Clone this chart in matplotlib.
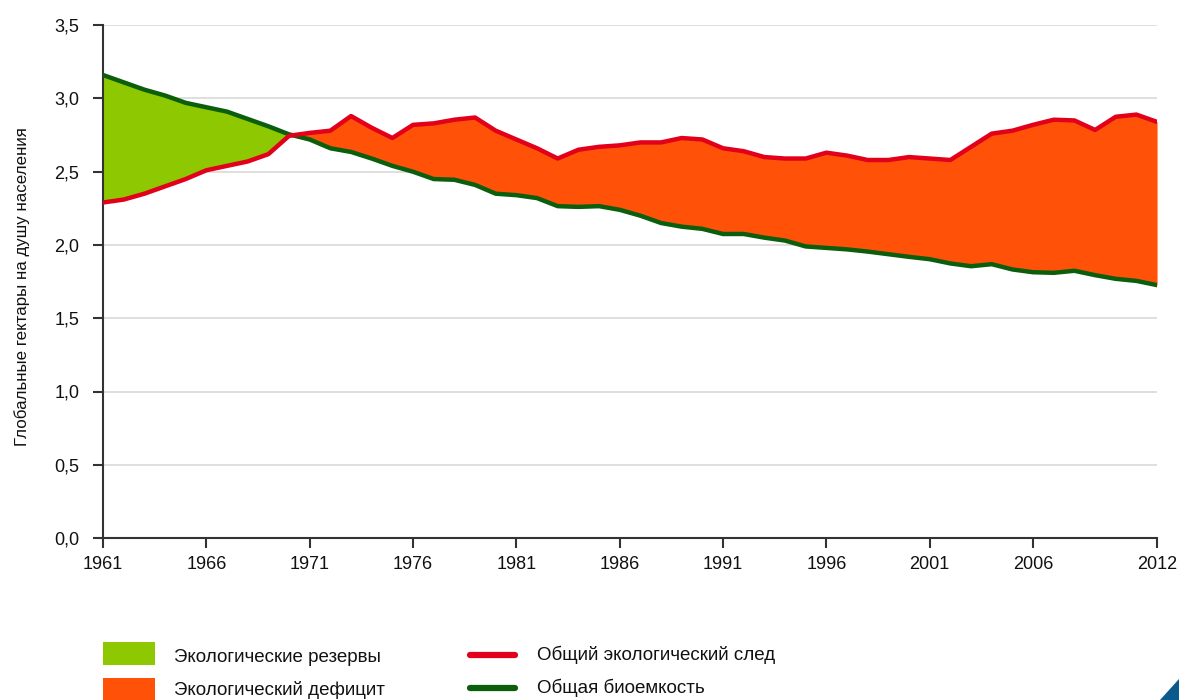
import matplotlib.pyplot as plt
from matplotlib.patches import Rectangle, Polygon
from matplotlib.lines import Line2D

# data
years = list(range(1961, 2013))
footprint = [2.29, 2.31, 2.35, 2.40, 2.45, 2.51, 2.54, 2.57, 2.62, 2.745,
             2.765, 2.78, 2.88, 2.80, 2.73, 2.82, 2.83, 2.855, 2.87, 2.78,
             2.72, 2.66, 2.59, 2.65, 2.67, 2.68, 2.70, 2.70, 2.73, 2.72,
             2.66, 2.64, 2.60, 2.59, 2.59, 2.63, 2.61, 2.58, 2.58, 2.60,
             2.59, 2.58, 2.67, 2.76, 2.78, 2.82, 2.855, 2.85, 2.785, 2.875,
             2.89, 2.84]
biocapacity = [3.16, 3.11, 3.06, 3.02, 2.97, 2.94, 2.91, 2.86, 2.81, 2.755,
               2.72, 2.66, 2.635, 2.59, 2.54, 2.50, 2.45, 2.445, 2.41, 2.35,
               2.34, 2.32, 2.265, 2.26, 2.265, 2.24, 2.20, 2.15, 2.125, 2.11,
               2.075, 2.075, 2.05, 2.03, 1.99, 1.98, 1.97, 1.955, 1.937, 1.919,
               1.903, 1.874, 1.855, 1.869, 1.833, 1.814, 1.81, 1.824, 1.794, 1.769,
               1.755, 1.726]
xticks = [1961, 1966, 1971, 1976, 1981, 1986, 1991, 1996, 2001, 2006, 2012]
yticks = [0, 0.5, 1.0, 1.5, 2.0, 2.5, 3.0, 3.5]

GREEN_FILL = '#8DC800'
ORANGE_FILL = '#FF5208'
RED = '#E2001A'
DKGREEN = '#0B5E0B'
AXIS = '#333333'
TXT = '#111111'

plt.rcParams['font.family'] = ['Liberation Sans', 'DejaVu Sans']

fig = plt.figure(figsize=(11.79, 7.0), dpi=100)
ax = fig.add_axes([0.0874, 0.2314, 0.894, 0.7326])

ax.fill_between(years, footprint, biocapacity,
                where=[b >= f for f, b in zip(footprint, biocapacity)],
                interpolate=True, color=GREEN_FILL, lw=0)
ax.fill_between(years, footprint, biocapacity,
                where=[f >= b for f, b in zip(footprint, biocapacity)],
                interpolate=True, color=ORANGE_FILL, lw=0)
ax.plot(years, biocapacity, color=DKGREEN, lw=3.2, solid_capstyle='round',
        solid_joinstyle='round', zorder=3)
ax.plot(years, footprint, color=RED, lw=3.2, solid_capstyle='round',
        solid_joinstyle='round', zorder=4)

ax.set_xlim(1961, 2012)
ax.set_ylim(0, 3.5)
ax.set_xticks(xticks)
ax.set_xticklabels([str(y) for y in xticks])
ax.set_yticks(yticks)
ax.set_yticklabels([f'{v:.1f}'.replace('.', ',') for v in yticks])
ax.grid(axis='y', color='#D9D9D9', lw=1.2)
ax.set_axisbelow(True)
for s in ['top', 'right']:
    ax.spines[s].set_visible(False)
for s in ['left', 'bottom']:
    ax.spines[s].set_color(AXIS)
    ax.spines[s].set_linewidth(1.5)
ax.tick_params(axis='both', colors=AXIS, width=1.5, length=7, labelsize=13,
               labelcolor=TXT)
ax.tick_params(axis='x', pad=6)
ax.tick_params(axis='y', pad=10)

fig.text(0.019, 0.59, 'Глобальные гектары на душу населения', rotation=90,
         ha='center', va='center', fontsize=12.2, color=TXT)

# legend
fig.patches.append(Rectangle((0.0874, 0.050), 0.0441, 0.033, transform=fig.transFigure,
                             facecolor=GREEN_FILL, edgecolor='none'))
fig.patches.append(Rectangle((0.0874, 0.0), 0.0441, 0.031, transform=fig.transFigure,
                             facecolor=ORANGE_FILL, edgecolor='none'))
fig.text(0.148, 0.0614, 'Экологические резервы', fontsize=13.5,
         va='center', color=TXT)
fig.text(0.148, 0.0143, 'Экологический дефицит', fontsize=13.5,
         va='center', color=TXT)
fig.lines.append(Line2D([0.399, 0.437], [0.064, 0.064], transform=fig.transFigure,
                        color=RED, lw=4.5, solid_capstyle='round'))
fig.lines.append(Line2D([0.399, 0.437], [0.017, 0.017], transform=fig.transFigure,
                        color=DKGREEN, lw=4.5, solid_capstyle='round'))
fig.text(0.4555, 0.064, 'Общий экологический след', fontsize=13.5,
         va='center', color=TXT)
fig.text(0.4555, 0.017, 'Общая биоемкость', fontsize=13.5,
         va='center', color=TXT)

# corner decoration
fig.patches.append(Polygon([(0.984, 0.0), (1.0, 0.0), (1.0, 0.03)], closed=True,
                           transform=fig.transFigure, facecolor='#0B5A8C',
                           edgecolor='none'))

fig.savefig('out.png', dpi=100)
